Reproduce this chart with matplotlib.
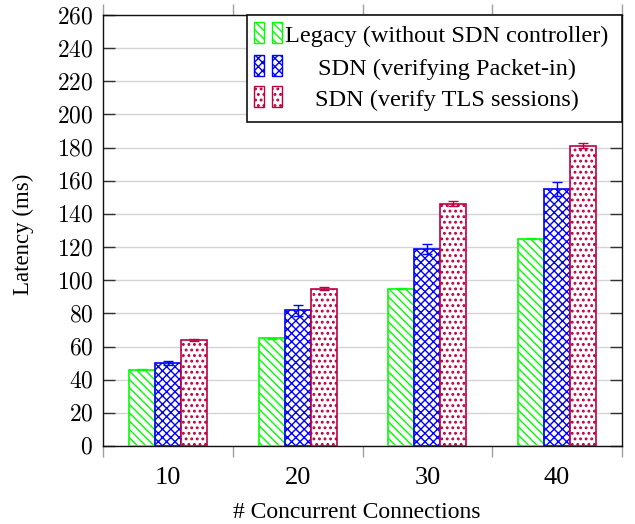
import matplotlib
matplotlib.use("Agg")
import matplotlib.pyplot as plt
from matplotlib.patches import Rectangle
from matplotlib.ticker import FixedLocator, FuncFormatter
import numpy as np

# ---- fonts: Times-like text, Computer Modern digits on the y axis ----
plt.rcParams["font.family"] = ["Liberation Serif", "DejaVu Serif"]
plt.rcParams["mathtext.fontset"] = "cm"
plt.rcParams["hatch.linewidth"] = 1.0

# ---- data ----
connections = [10, 20, 30, 40]
series_names = ["Legacy (without SDN controller)",
                "SDN (verifying Packet-in)",
                "SDN (verify TLS sessions)"]
legacy = [46, 65, 95, 125]
legacy_err = [0.3, 0.3, 0.3, 0.3]
packet_in = [50, 82, 119, 155]
packet_in_err = [1.2, 3.3, 3.0, 4.3]
tls = [64, 95, 146, 181]
tls_err = [0.5, 0.8, 1.5, 1.5]

values = [legacy, packet_in, tls]
errors = [legacy_err, packet_in_err, tls_err]
colors = ["#00ff00", "#0000ff", "#bf0040"]
hatches = ["\\\\\\\\", "xxxx", "..."]
hatch_lw = [1.0, 1.0, 1.3]
offsets = [-2, 0, 2]
bar_w = 2.0


def set_hlw(patch, lw):
    # hatch line width per patch (matplotlib >= 3.10)
    if hasattr(patch, "set_hatch_linewidth"):
        patch.set_hatch_linewidth(lw)


fig = plt.figure(figsize=(6.35, 5.24), dpi=100)
ax = fig.add_axes([103 / 635, 1 - 446 / 524, 519 / 635, 431 / 524])

x = np.array(connections, dtype=float)
for vals, errs, col, hat, hlw, off in zip(values, errors, colors, hatches,
                                          hatch_lw, offsets):
    bars = ax.bar(x + off, vals, width=bar_w, facecolor="white",
                  edgecolor=col, hatch=hat, linewidth=1.2, zorder=3)
    for b in bars:
        set_hlw(b, hlw)
    _, caps, _ = ax.errorbar(x + off, vals, yerr=errs, fmt="none",
                             ecolor=col, elinewidth=1.0, capsize=3.6,
                             capthick=1.0, zorder=4)
    for c in caps:
        c.set_color("#222222")

# ---- axes ----
ax.set_xlim(5, 45)
ax.set_ylim(0, 260)

ax.xaxis.set_major_locator(FixedLocator(connections))
ax.set_xticklabels([str(c) for c in connections], fontsize=19)
ax.xaxis.set_minor_locator(FixedLocator([5, 15, 25, 35, 45]))
ax.tick_params(axis="x", which="major", length=0, pad=15)
ax.tick_params(axis="x", which="minor", direction="out", length=8,
               width=1.0, color="#a0a0a0", top=True, bottom=True)

ax.yaxis.set_major_locator(FixedLocator(np.arange(0, 261, 20)))
ax.yaxis.set_major_formatter(FuncFormatter(lambda v, p: f"${v:.0f}$"))
ax.tick_params(axis="y", which="major", direction="in", length=8.5,
               width=1.0, color="#333333", left=True, right=True,
               labelsize=17, pad=7)

ax.yaxis.grid(True, color="#d4d4d4", linewidth=1.0, zorder=0)
ax.set_axisbelow(True)
for s in ax.spines.values():
    s.set_linewidth(1.0)
    s.set_color("#111111")

ax.set_xlabel("# Concurrent Connections", fontsize=17)
ax.set_ylabel("Latency (ms)", fontsize=16.5)
ax.xaxis.set_label_coords(0.488, -0.129)
ax.yaxis.set_label_coords(-0.132, 0.49)

# ---- legend box (centered entry text, two small bars per entry) ----
ax.add_patch(Rectangle((0.2775, 0.7517), 1 - 0.2775, 1 - 0.7517,
                       transform=ax.transAxes, facecolor="white",
                       edgecolor="#111111", linewidth=1.2, zorder=10,
                       clip_on=False))
row_bottoms = [0.935, 0.8585, 0.7865]
for name, col, hat, hlw, yb in zip(series_names, colors, hatches, hatch_lw,
                                   row_bottoms):
    for xl in (0.2909, 0.3256):
        p = Rectangle((xl, yb), 0.0193, 0.0487, transform=ax.transAxes,
                      facecolor="white", edgecolor=col, hatch=hat,
                      linewidth=1.0, zorder=11)
        set_hlw(p, hlw)
        ax.add_patch(p)
    ax.text(0.6628, yb + 0.0487 / 2 - 0.009, name, transform=ax.transAxes,
            ha="center", va="center", fontsize=17.5, zorder=12)

fig.savefig("out.png", dpi=100)
